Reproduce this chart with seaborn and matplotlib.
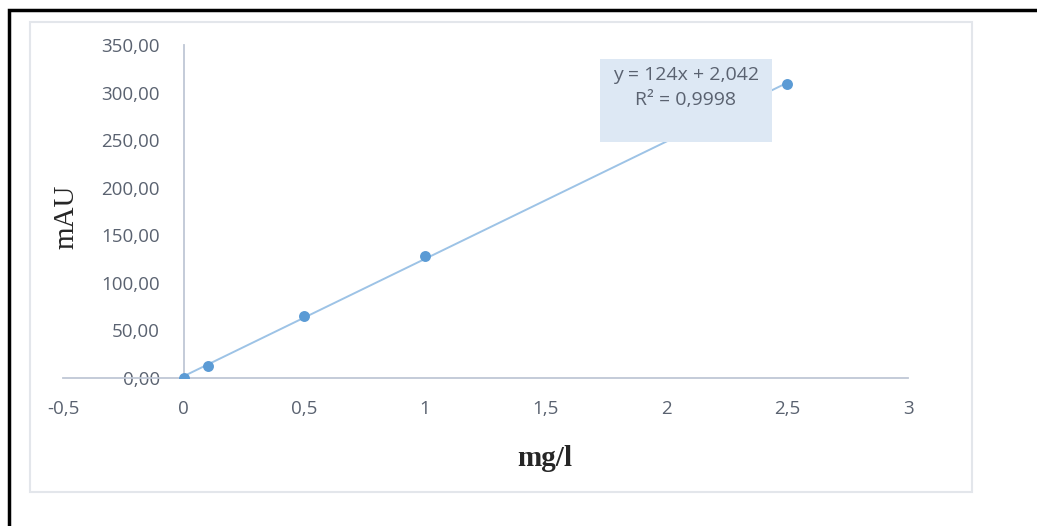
import numpy as np
import pandas as pd
import matplotlib
matplotlib.use("Agg")
import matplotlib.pyplot as plt
import seaborn as sns
from matplotlib.patches import Rectangle

# calibration data
conc = [0, 0.1, 0.5, 1, 2.5]
mau = [0.5, 12.8, 65.0, 128.0, 309.0]
x_ticks = [-0.5, 0, 0.5, 1, 1.5, 2, 2.5, 3]
y_ticks = [0, 50, 100, 150, 200, 250, 300, 350]
eq_text = "y = 124x + 2,042"
r2_text = "R² = 0,9998"

df = pd.DataFrame({"mg/l": conc, "mAU": mau})

sns.set_style("white")
plt.rcParams["font.family"] = ["Open Sans", "DejaVu Sans"]

txt_col = "#5A6270"
fig = plt.figure(figsize=(10.37, 5.26), dpi=100)
ax = fig.add_axes([63 / 1037, 1 - 378 / 526, 845 / 1037, 333 / 526])

sns.regplot(data=df, x="mg/l", y="mAU", ax=ax, ci=None,
            scatter_kws=dict(s=62, color="#5B9BD5", alpha=1, zorder=4, linewidths=0),
            line_kws=dict(color="#9DC3E6", lw=1.4, zorder=3))

ax.set_xlim(-0.5, 3)
ax.set_ylim(0, 350)
ax.set_xticks(x_ticks)
ax.set_yticks(y_ticks)
ax.set_xticklabels([f"{t:g}".replace(".", ",") for t in x_ticks])
ax.set_yticklabels([f"{t:.2f}".replace(".", ",") for t in y_ticks])

axis_col = "#BFC7D5"
for s in ["top", "right"]:
    ax.spines[s].set_visible(False)
ax.spines["left"].set_position(("data", 0))
ax.spines["bottom"].set_position(("data", 0))
for s in ["left", "bottom"]:
    ax.spines[s].set_color(axis_col)
    ax.spines[s].set_linewidth(1.3)
    ax.spines[s].set_zorder(1)

ax.tick_params(axis="y", length=0, pad=17, labelsize=13.5, labelcolor=txt_col)
ax.tick_params(axis="x", length=0, pad=16, labelsize=13.5, labelcolor=txt_col)

ax.set_xlabel("")
ax.set_ylabel("")
fig.text(545 / 1037, 1 - 458 / 526, "mg/l", ha="center", va="center",
         family="Liberation Serif", fontweight="bold", fontsize=21)
fig.text(66 / 1037, 1 - 217 / 526, "mAU", ha="center", va="center", rotation=90,
         family="Liberation Serif", fontsize=21)

# equation box
ax.add_patch(Rectangle((1.723, 248), 0.715, 87, facecolor="#DDE8F4",
                       edgecolor="none", zorder=5))
ax.text(2.08, 318, eq_text, ha="center", va="center", fontsize=14,
        color=txt_col, zorder=6)
ax.text(2.08, 292, r2_text, ha="center", va="center", fontsize=14,
        color=txt_col, zorder=6)

# chart area border and outer frame
fig.patches.append(Rectangle((30 / 1037, 1 - 492 / 526), 942 / 1037, 470 / 526,
                             transform=fig.transFigure, fill=False,
                             edgecolor="#E3E6EB", lw=1.5))
fig.patches.append(Rectangle((9 / 1037, -0.05), 1.1, 1 - 10 / 526 + 0.05,
                             transform=fig.transFigure, fill=False,
                             edgecolor="black", lw=2.5))

fig.savefig("out.png", dpi=100)
